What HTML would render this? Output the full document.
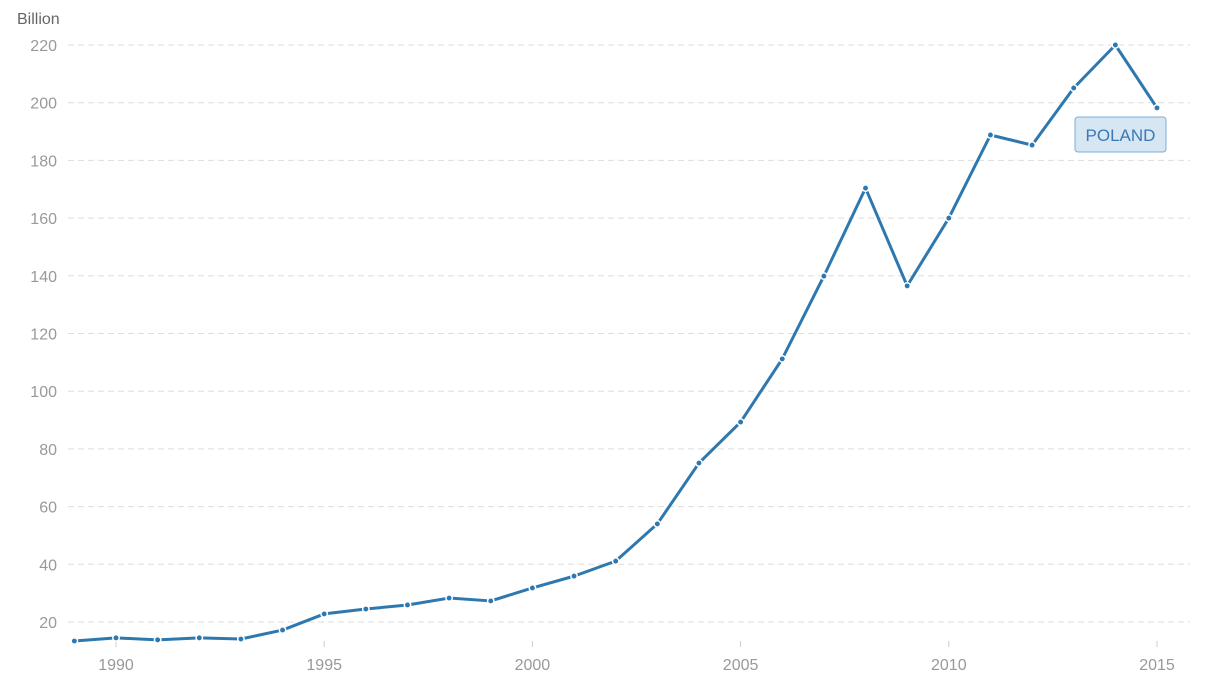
<!DOCTYPE html>
<html><head><meta charset="utf-8"><style>
body{margin:0;background:#fff;width:1207px;height:693px;overflow:hidden;font-family:"Liberation Sans",sans-serif}
</style></head><body>
<svg id="chart" width="1207" height="693" xmlns="http://www.w3.org/2000/svg">
<text x="17" y="24" font-size="16" fill="#666">Billion</text>
<g id="grid"></g><g id="xaxis"></g><g id="series"></g>
<g>
<rect x="1075" y="117" width="91" height="35" rx="3" fill="#d6e6f3" stroke="#7eadd3"/>
<text x="1120.5" y="141" font-size="17" fill="#3a7ab3" text-anchor="middle">POLAND</text>
</g>
</svg>
<script>
const years=[1989,1990,1991,1992,1993,1994,1995,1996,1997,1998,1999,2000,2001,2002,2003,2004,2005,2006,2007,2008,2009,2010,2011,2012,2013,2014,2015];
const values=[13.4,14.5,13.8,14.5,14.1,17.2,22.8,24.5,25.9,28.3,27.3,31.8,35.9,41.1,54,75.1,89.3,111.2,139.9,170.4,136.5,160,188.8,185.3,205.1,220,198.2];
const yTicks=[20,40,60,80,100,120,140,160,180,200,220];
const xTicks=[1990,1995,2000,2005,2010,2015];
const NS="http://www.w3.org/2000/svg";
const X=v=>116+(v-1990)*41.64;
const Y=v=>622-(v-20)*2.885;
function mk(t,a,p){const e=document.createElementNS(NS,t);for(const k in a)e.setAttribute(k,a[k]);p.appendChild(e);return e;}
const grid=document.getElementById('grid');
yTicks.forEach(t=>{
 const l=mk('line',{x1:68,x2:1190,y1:Y(t),y2:Y(t),stroke:'#ddd','stroke-dasharray':'6,4'},grid);
 
 
 const tx=mk('text',{x:57,y:Y(t)+6,'font-size':16,fill:'#999','text-anchor':'end'},grid);
 tx.textContent=t;
 
 
});
const xa=document.getElementById('xaxis');
xTicks.forEach(t=>{
 const l=mk('line',{x1:X(t),x2:X(t),y1:641,y2:647,stroke:'#ccc'},xa);
 
 
 const tx=mk('text',{x:X(t),y:670,'font-size':16,fill:'#999','text-anchor':'middle'},xa);
 tx.textContent=t;
 
 
});
const s=document.getElementById('series');
const path=mk('polyline',{points:years.map((y,i)=>X(y)+','+Y(values[i])).join(' '),fill:'none',stroke:'#2e78b0','stroke-width':3,'stroke-linejoin':'round'},s);


years.forEach((y,i)=>{
 const c=mk('circle',{cx:X(y),cy:Y(values[i]),r:3.2,fill:'#2e78b0',stroke:'#fff','stroke-width':1.5},s);
 
 
});
</script>
</body></html>
